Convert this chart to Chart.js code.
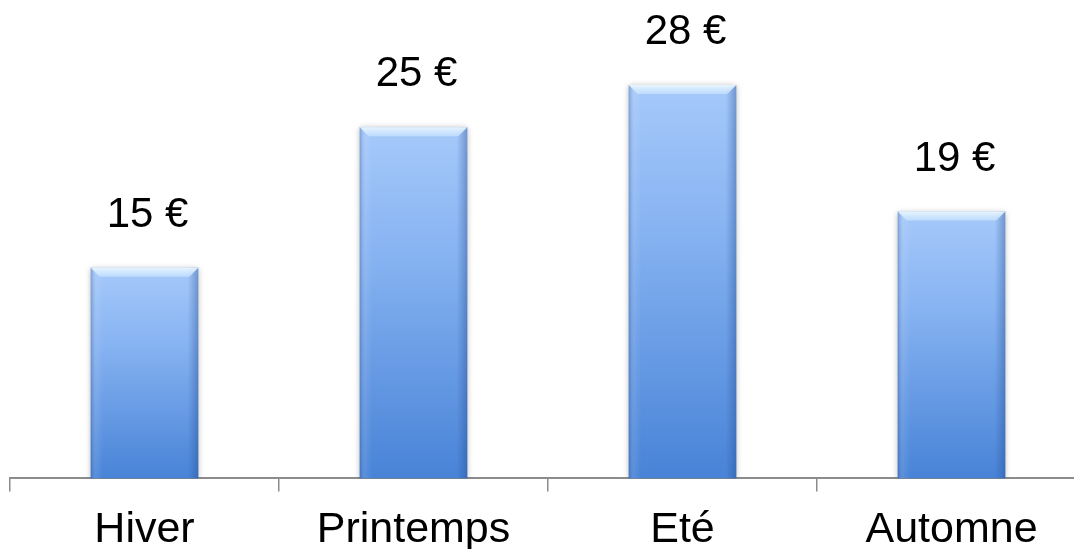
<!DOCTYPE html>
<html>
<head>
<meta charset="utf-8">
<script src="https://cdn.jsdelivr.net/npm/chart.js@4/dist/chart.umd.min.js"></script>
<style>
  html, body { margin: 0; padding: 0; background: #fff; overflow: hidden; }
  #graf { display: block; }
</style>
</head>
<body>
<canvas id="graf" width="1090" height="569"></canvas>
<script>
const saisons = ['Hiver', 'Printemps', 'Eté', 'Automne'];
const montants = [15, 25, 28, 19];
const etiquettes = ['15 €', '25 €', '28 €', '19 €'];

const police = "'Liberation Sans', Arial, sans-serif";

function degradeBarre(context) {
    const chart = context.chart;
    const y = chart.scales.y;
    if (!y || context.dataIndex === undefined) {
        return '#6a9fe6';
    }
    const haut = y.getPixelForValue(context.raw);
    const bas = y.getPixelForValue(0);
    if (!isFinite(haut) || !isFinite(bas) || haut === bas) {
        return '#6a9fe6';
    }
    const g = chart.ctx.createLinearGradient(0, haut, 0, bas);
    g.addColorStop(0, '#a6c9fa');
    g.addColorStop(0.35, '#88b4f2');
    g.addColorStop(1, '#4883d7');
    return g;
}

// ombre + biseau en haut des barres
const biseau = {
    id: 'biseau',
    beforeDatasetsDraw(chart) {
        const ctx = chart.ctx;
        ctx.save();
        ctx.shadowColor = 'rgba(0,0,0,0.3)';
        ctx.shadowBlur = 6;
        ctx.shadowOffsetY = 1;
    },
    afterDatasetsDraw(chart) {
        const ctx = chart.ctx;
        ctx.restore();
        const meta = chart.getDatasetMeta(0);
        meta.data.forEach((barre, i) => {
            const w = barre.width;
            const g0 = barre.x - w / 2;
            const d0 = barre.x + w / 2;
            const h = barre.base - barre.y;
            const b = 9;

            // cotes sombres
            const cote = ctx.createLinearGradient(g0, 0, d0, 0);
            cote.addColorStop(0, 'rgba(40,80,150,0.35)');
            cote.addColorStop(0.06, 'rgba(255,255,255,0.08)');
            cote.addColorStop(0.12, 'rgba(255,255,255,0)');
            cote.addColorStop(0.9, 'rgba(40,80,150,0)');
            cote.addColorStop(1, 'rgba(30,70,140,0.4)');
            ctx.fillStyle = cote;
            ctx.fillRect(g0, barre.y, w, h);

            // biseau du haut
            const lum = ctx.createLinearGradient(0, barre.y, 0, barre.y + b);
            lum.addColorStop(0, 'rgba(235,247,255,0.95)');
            lum.addColorStop(1, 'rgba(200,228,255,0.7)');
            ctx.fillStyle = lum;
            ctx.beginPath();
            ctx.moveTo(g0, barre.y);
            ctx.lineTo(d0, barre.y);
            ctx.lineTo(d0 - b, barre.y + b);
            ctx.lineTo(g0 + b, barre.y + b);
            ctx.closePath();
            ctx.fill();

            // valeur au-dessus
            ctx.save();
            ctx.fillStyle = '#000';
            ctx.font = '42px ' + police;
            ctx.textAlign = 'center';
            ctx.textBaseline = 'alphabetic';
            ctx.fillText(etiquettes[i], barre.x + 3, barre.y - 41);
            ctx.restore();
        });
    }
};

const ctx = document.getElementById('graf').getContext('2d');
new Chart(ctx, {
    type: 'bar',
    data: {
        labels: saisons,
        datasets: [{
            data: montants,
            backgroundColor: degradeBarre,
            borderWidth: 0,
            categoryPercentage: 1,
            barPercentage: 0.4
        }]
    },
    options: {
        responsive: false,
        animation: false,
        layout: { padding: { top: 57, left: 10, right: 4, bottom: 0 } },
        plugins: {
            legend: { display: false },
            tooltip: { enabled: false }
        },
        scales: {
            x: {
                offset: true,
                grid: {
                    display: true,
                    offset: true,
                    drawOnChartArea: false,
                    drawTicks: true,
                    tickLength: 13,
                    color: '#8c8c8c',
                    lineWidth: 1.5
                },
                border: { display: true, color: '#8c8c8c', width: 2 },
                ticks: {
                    color: '#000',
                    padding: 13,
                    font: { family: police, size: 43 }
                }
            },
            y: {
                display: false,
                min: 0,
                max: 30
            }
        }
    },
    plugins: [biseau]
});
</script>
</body>
</html>
